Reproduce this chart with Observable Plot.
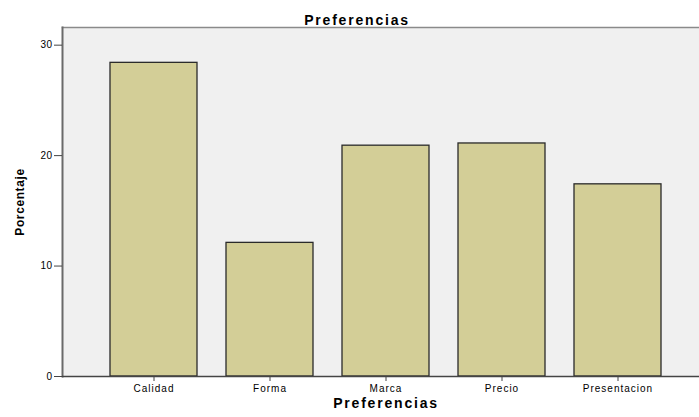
<!DOCTYPE html>
<html>
<head>
<meta charset="utf-8">
<script src="https://cdn.jsdelivr.net/npm/d3@7"></script>
<script src="https://cdn.jsdelivr.net/npm/@observablehq/plot@0.6"></script>
<style>
  body { margin: 0; background: #fff; }
  svg { display: block; }
  .tick-lbl text, g[aria-label="x-axis tick label"] text { letter-spacing: 1px; }
  g[aria-label="y-axis tick label"] text { letter-spacing: 0.5px; }
</style>
</head>
<body>
<div id="chart"></div>
<script>
const categories = ["Calidad", "Forma", "Marca", "Precio", "Presentacion"];
const values = [28.4, 12.1, 20.9, 21.1, 17.4];
const yTicks = [0, 10, 20, 30];
const title = "Preferencias";
const xLabel = "Preferencias";
const yLabel = "Porcentaje";

const data = categories.map((c, i) => ({ cat: c, val: values[i] }));

const font = "Liberation Sans, Arial, sans-serif";

const chart = Plot.plot({
  width: 699,
  height: 417,
  marginLeft: 62,
  marginRight: 0,
  marginTop: 27,
  marginBottom: 41,
  style: { fontFamily: font, fontSize: "10px", color: "#000", background: "#fff" },
  x: { domain: categories, range: [94.25, 676.75], paddingInner: 0.25, paddingOuter: 0.125, label: null },
  y: { domain: [0, 31.6], label: null },
  marks: [
    Plot.frame({ fill: "#f0f0f0", stroke: null }),
    Plot.frame({ anchor: "top", stroke: "#8a8a8a", strokeWidth: 1.5 }),
    Plot.frame({ anchor: "left", stroke: "#6a6a6a", strokeWidth: 2 }),
    Plot.barY(data, { x: "cat", y: "val", fill: "#d3ce97", stroke: "#2a2a2a", strokeWidth: 1.3 }),
    Plot.ruleY([0], { stroke: "#444", strokeWidth: 1.5 }),
    Plot.axisY(yTicks, { ticks: yTicks, tickSize: 8, tickPadding: 2, stroke: "#444", fontSize: 10, label: null }),
    Plot.axisX({ tickSize: 5, tickPadding: 3, stroke: "#444", fontSize: 10, label: null }),
    Plot.text([title], { frameAnchor: "top", dy: -12, dx: -24, fontWeight: "bold", fontSize: 14, textAnchor: "middle", style: "letter-spacing:1.5px" }),
    Plot.text([xLabel], { frameAnchor: "bottom", dy: 31, dx: 5, fontWeight: "bold", fontSize: 14, textAnchor: "middle" }),
    Plot.text([yLabel], { frameAnchor: "left", dx: -42, rotate: -90, fontWeight: "bold", fontSize: 12, textAnchor: "middle" })
  ]
});
document.getElementById("chart").append(chart);

// wider letter spacing for the labels, like the reference rendering
chart.querySelectorAll("text").forEach(t => {
  const s = t.textContent;
  if (s === title || s === xLabel) t.setAttribute("letter-spacing", "1.8");
  else if (s === yLabel) t.setAttribute("letter-spacing", "0.6");
  else if (categories.includes(s)) t.setAttribute("letter-spacing", "1");
});
</script>
</body>
</html>
